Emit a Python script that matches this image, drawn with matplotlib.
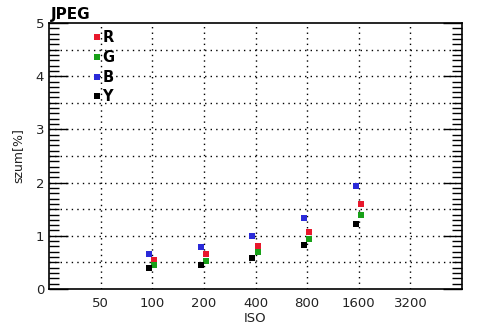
import matplotlib
matplotlib.use("Agg")
import matplotlib.pyplot as plt
from matplotlib.ticker import MultipleLocator

iso_labels = ["50", "100", "200", "400", "800", "1600", "3200"]
iso_measured = ["100", "200", "400", "800", "1600"]
R = [0.54, 0.65, 0.81, 1.07, 1.60]
G = [0.45, 0.53, 0.70, 0.94, 1.39]
B = [0.65, 0.79, 0.99, 1.33, 1.94]
Y = [0.39, 0.45, 0.58, 0.82, 1.22]

fig = plt.figure(figsize=(4.94, 3.31), dpi=100)
ax = fig.add_axes([49/494, 1-289/331, 413/494, 266/331])

pos = {lab: i + 1 for i, lab in enumerate(iso_labels)}
xm = [pos[l] for l in iso_measured]
left = [x - 0.06 for x in xm]
right = [x + 0.04 for x in xm]

ms = 4.4
ax.plot(right, R, 's', color="#e8182c", ms=ms, mew=0, label="R", zorder=3)
ax.plot(right, G, 's', color="#18a018", ms=ms, mew=0, label="G", zorder=3)
ax.plot(left, B, 's', color="#2a2ad8", ms=ms, mew=0, label="B", zorder=3)
ax.plot(left, Y, 's', color="black", ms=ms, mew=0, label="Y", zorder=3)

ax.set_xlim(0, 8)
ax.set_ylim(0, 5)
ax.set_xticks([pos[l] for l in iso_labels])
ax.set_xticklabels(iso_labels)
ax.yaxis.set_major_locator(MultipleLocator(1))
ax.yaxis.set_minor_locator(MultipleLocator(0.1))
ax.tick_params(axis='x', length=0, labelsize=9.5, colors="#222222", pad=6)
ax.tick_params(axis='y', which='major', direction='in', length=14, width=1,
               left=True, right=True, labelsize=9.5, labelcolor="#222222")
ax.tick_params(axis='y', which='minor', direction='in', length=7, width=1,
               left=True, right=True)

for v in [0.5, 1, 1.5, 2, 2.5, 3, 3.5, 4, 4.5]:
    ax.axhline(v, color="black", lw=1, ls=(0, (1, 3)), zorder=1)
for l in iso_labels:
    ax.axvline(pos[l], color="black", lw=1, ls=(0, (1, 3)), zorder=1)

for s in ax.spines.values():
    s.set_linewidth(1.2)

ax.set_xlabel("ISO", fontsize=9.5, color="#222222", labelpad=1)
ax.set_ylabel("szum[%]", fontsize=9, color="#222222", labelpad=8)
fig.text(51/494, 1-19/331, "JPEG", fontsize=11, fontweight="bold", ha="left", va="baseline")

leg = ax.legend(loc="upper left", bbox_to_anchor=(0.11, 0.972), frameon=False,
                handlelength=0.4, handletextpad=0.15, labelspacing=0.32,
                borderaxespad=0, borderpad=0, markerscale=1.1,
                prop={"weight": "bold", "size": 10.5})

fig.savefig("out.png", dpi=100)
